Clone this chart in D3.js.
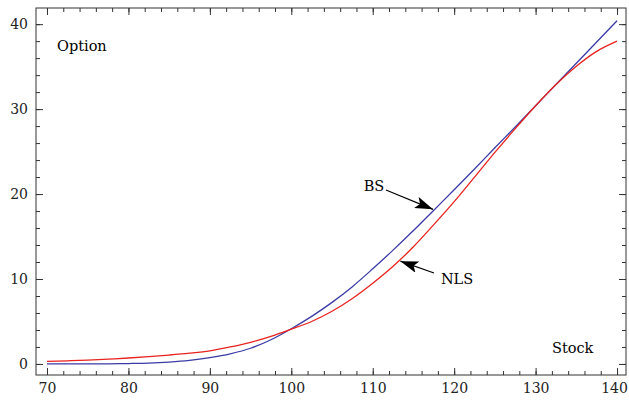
<!DOCTYPE html>
<html>
<head>
<meta charset="utf-8">
<script src="https://cdn.jsdelivr.net/npm/d3@7"></script>
<style>
  body { margin: 0; background: #fff; }
  text { font-family: "DejaVu Serif", serif; }
  .axis text { font-size: 14px; fill: #222; }
  .axis path, .axis line { stroke: #333; }
</style>
</head>
<body>
<div id="chart"></div>
<script>
// stock prices (x) and option values
var stock = [70, 72.5, 75, 77.5, 80, 82.5, 85, 87.5, 90, 92.5, 95, 97.5, 100, 102.5, 105,
             107.5, 110, 112.5, 115, 117.5, 120, 122.5, 125, 127.5, 130, 132.5, 135, 137.5, 140];
var bsValues = [0, 0, 0.01, 0.02, 0.05, 0.1, 0.22, 0.42, 0.75, 1.2, 1.85, 2.85, 4.15, 5.6, 7.25,
                9.1, 11.2, 13.4, 15.7, 18.1, 20.5, 22.95, 25.45, 27.9, 30.4, 32.9, 35.4, 37.9, 40.4];
var nlsValues = [0.3, 0.37, 0.45, 0.57, 0.7, 0.86, 1.05, 1.27, 1.55, 2.0, 2.55, 3.25, 4.1, 5.0, 6.2,
                 7.7, 9.5, 11.5, 13.8, 16.4, 19.1, 22.0, 24.9, 27.7, 30.4, 32.9, 35.05, 36.8, 38.0];

var xMajor = [70, 80, 90, 100, 110, 120, 130, 140];
var yMajor = [0, 10, 20, 30, 40];
var xMinor = d3.range(70, 141, 2);
var yMinor = d3.range(0, 41, 2);

var width = 629, height = 406;
var margin = {top: 8, right: 3, bottom: 31, left: 36};
var w = width - margin.left - margin.right;
var h = height - margin.top - margin.bottom;

var svg = d3.select("#chart").append("svg")
    .attr("width", width)
    .attr("height", height)
    .append("g")
    .attr("transform", "translate(" + margin.left + "," + margin.top + ")");

var x = d3.scaleLinear().domain([68.65, 141.1]).range([0, w]);
var y = d3.scaleLinear().domain([-1.3, 41.9]).range([h, 0]);

// frame with inward ticks on all four sides
function addAxis(axis, cls, tx, ty) {
    svg.append("g")
        .attr("class", "axis " + cls)
        .attr("transform", "translate(" + tx + "," + ty + ")")
        .call(axis);
}

addAxis(d3.axisBottom(x).tickValues(xMinor).tickSize(-4).tickFormat(""), "xmin", 0, h);
addAxis(d3.axisBottom(x).tickValues(xMajor).tickSizeInner(-7).tickSizeOuter(0).tickPadding(8).tickFormat(d3.format("d")), "xmaj", 0, h);
addAxis(d3.axisTop(x).tickValues(xMinor).tickSize(-4).tickFormat(""), "xmin2", 0, 0);
addAxis(d3.axisTop(x).tickValues(xMajor).tickSize(-7).tickFormat(""), "xmaj2", 0, 0);

addAxis(d3.axisLeft(y).tickValues(yMinor).tickSize(-4).tickFormat(""), "ymin", 0, 0);
addAxis(d3.axisLeft(y).tickValues(yMajor).tickSizeInner(-7).tickSizeOuter(0).tickPadding(8).tickFormat(d3.format("d")), "ymaj", 0, 0);
addAxis(d3.axisRight(y).tickValues(yMinor).tickSize(-4).tickFormat(""), "ymin2", w, 0);
addAxis(d3.axisRight(y).tickValues(yMajor).tickSize(-7).tickFormat(""), "ymaj2", w, 0);

svg.selectAll(".axis path").attr("d", null);
svg.selectAll(".axis text").attr("font-family", null);
// keep the last x label inside the window
svg.selectAll(".xmaj text").filter(function(d) { return d === 140; }).attr("dx", -3);
svg.append("rect")
    .attr("width", w).attr("height", h)
    .attr("fill", "none").attr("stroke", "#333").attr("stroke-width", 1);

// curves
var line = d3.line()
    .curve(d3.curveMonotoneX)
    .x(function(d) { return x(d[0]); })
    .y(function(d) { return y(d[1]); });

svg.append("path")
    .datum(d3.zip(stock, bsValues))
    .attr("d", line)
    .attr("fill", "none")
    .attr("stroke", "#3b3ba6")
    .attr("stroke-width", 1.3);

svg.append("path")
    .datum(d3.zip(stock, nlsValues))
    .attr("d", line)
    .attr("fill", "none")
    .attr("stroke", "#e8231f")
    .attr("stroke-width", 1.3);

// arrow labels
svg.append("defs").append("marker")
    .attr("id", "head")
    .attr("viewBox", "0 0 18 12")
    .attr("refX", 18).attr("refY", 6)
    .attr("markerWidth", 18).attr("markerHeight", 12)
    .attr("markerUnits", "userSpaceOnUse")
    .attr("orient", "auto")
    .append("path")
    .attr("d", "M0,0 L18,6 L0,12 L4,6 Z")
    .attr("fill", "#000");

function arrow(label, tx, ty, x0, y0, s, v) {
    svg.append("text")
        .attr("x", tx).attr("y", ty)
        .attr("text-anchor", "middle")
        .attr("font-size", 14.5)
        .text(label);
    svg.append("line")
        .attr("x1", x0).attr("y1", y0)
        .attr("x2", x(s)).attr("y2", y(v))
        .attr("stroke", "#000").attr("stroke-width", 1.2)
        .attr("marker-end", "url(#head)");
}

arrow("BS", 374 - margin.left, 191 - margin.top, 386 - margin.left, 190 - margin.top, 117.4, 18.2);
arrow("NLS", 457 - margin.left, 284 - margin.top, 434 - margin.left, 273 - margin.top, 113.4, 12.1);

svg.append("text")
    .attr("x", 57 - margin.left).attr("y", 51 - margin.top)
    .attr("font-size", 14.5)
    .text("Option");
svg.append("text")
    .attr("x", 552 - margin.left).attr("y", 353 - margin.top)
    .attr("font-size", 14.5)
    .text("Stock");
</script>
</body>
</html>
